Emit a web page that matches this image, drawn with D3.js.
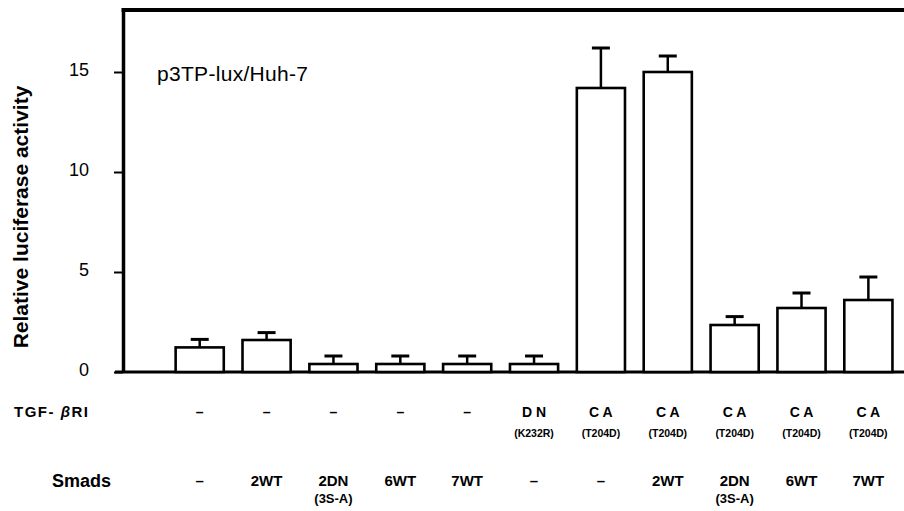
<!DOCTYPE html>
<html>
<head>
<meta charset="utf-8">
<script src="https://cdn.jsdelivr.net/npm/d3@7/dist/d3.min.js"></script>
<style>
  html, body { margin: 0; padding: 0; background: #fff; }
  svg { display: block; }
  text { font-family: "Liberation Sans", Arial, Helvetica, sans-serif; fill: #000; }
</style>
</head>
<body>
<svg id="chart" width="904" height="511"></svg>
<script>
// Luciferase reporter assay: p3TP-lux in Huh-7 cells
const groups = ["g1", "g2", "g3", "g4", "g5", "g6", "g7", "g8", "g9", "g10", "g11"];
const activity = [1.23, 1.6, 0.4, 0.4, 0.4, 0.4, 14.2, 15.0, 2.35, 3.2, 3.6];
const errorSD = [0.4, 0.37, 0.4, 0.4, 0.4, 0.4, 2.0, 0.8, 0.42, 0.75, 1.15];
const yTicks = [0, 5, 10, 15];

// Condition rows printed under the bars (main line, optional second line)
const receptorMain = ["–", "–", "–", "–", "–", "D N", "C A", "C A", "C A", "C A", "C A"];
const receptorSub = ["", "", "", "", "", "(K232R)", "(T204D)", "(T204D)", "(T204D)", "(T204D)", "(T204D)"];
const smadMain = ["–", "2WT", "2DN", "6WT", "7WT", "–", "–", "2WT", "2DN", "6WT", "7WT"];
const smadSub = ["", "", "(3S-A)", "", "", "", "", "", "(3S-A)", "", ""];

const svg = d3.select("#chart");
const plotLeft = 123, plotRight = 904, plotTop = 10, plotBottom = 372;
const yMax = 18.1;

const x = d3.scaleBand()
  .domain(groups)
  .range([plotLeft, plotRight])
  .paddingInner(0.28)
  .paddingOuter(0.48)
  .align(0.82);

const y = d3.scaleLinear()
  .domain([0, yMax])
  .range([plotBottom, plotTop]);

// Y axis with outward ticks
const yAxis = svg.append("g")
  .attr("transform", `translate(${plotLeft},0)`)
  .call(d3.axisLeft(y).tickValues(yTicks).tickSize(9).tickSizeOuter(0).tickPadding(25));
yAxis.select(".domain").attr("stroke", "#000").attr("stroke-width", 3.5);
yAxis.selectAll(".tick line").attr("stroke", "#000").attr("stroke-width", 2);
yAxis.selectAll(".tick text")
  .style("font-family", '"Liberation Sans", Arial, sans-serif')
  .style("font-size", "18px")
  .attr("fill", "#000")
  .attr("dy", "0.22em");

// Frame top and baseline
svg.append("line")
  .attr("x1", plotLeft - 1.5).attr("x2", plotRight)
  .attr("y1", y(yMax)).attr("y2", y(yMax))
  .attr("stroke", "#000").attr("stroke-width", 4);
svg.append("line")
  .attr("x1", plotLeft - 8).attr("x2", plotRight)
  .attr("y1", y(0)).attr("y2", y(0))
  .attr("stroke", "#000").attr("stroke-width", 3.2);

// Error bars (upper only)
const capW = 18;
const cx = d => x(d) + x.bandwidth() / 2;
const eb = svg.append("g").selectAll("g")
  .data(groups)
  .join("g");
eb.append("line")
  .attr("x1", cx)
  .attr("x2", cx)
  .attr("y1", (d, i) => y(activity[i]))
  .attr("y2", (d, i) => y(activity[i] + errorSD[i]))
  .attr("stroke", "#000").attr("stroke-width", 2.5);
eb.append("line")
  .attr("x1", d => cx(d) - capW / 2)
  .attr("x2", d => cx(d) + capW / 2)
  .attr("y1", (d, i) => y(activity[i] + errorSD[i]))
  .attr("y2", (d, i) => y(activity[i] + errorSD[i]))
  .attr("stroke", "#000").attr("stroke-width", 3);

// Open bars
svg.append("g").selectAll("rect")
  .data(groups)
  .join("rect")
  .attr("x", d => x(d))
  .attr("width", x.bandwidth())
  .attr("y", (d, i) => y(activity[i]))
  .attr("height", (d, i) => y(0) - y(activity[i]))
  .attr("fill", "#fff")
  .attr("stroke", "#000")
  .attr("stroke-width", 2.6);

// Y axis title
svg.append("text")
  .attr("transform", `translate(28,${(y(0) + y(yMax)) / 2 + 26}) rotate(-90)`)
  .attr("text-anchor", "middle")
  .style("font-size", "21px")
  .style("font-weight", "bold")
  .text("Relative luciferase activity");

// Panel label
svg.append("text")
  .attr("x", 157).attr("y", 81)
  .style("font-size", "21px")
  .style("letter-spacing", "0.3px")
  .text("p3TP-lux/Huh-7");

// Row headers
const tgf = svg.append("text")
  .attr("x", 14).attr("y", 417)
  .style("font-size", "15px")
  .style("font-weight", "bold")
  .style("letter-spacing", "1.5px");
tgf.append("tspan").text("TGF- ");
tgf.append("tspan").style("font-style", "italic").text("β");
tgf.append("tspan").text("RI");

svg.append("text")
  .attr("x", 52).attr("y", 487)
  .style("font-size", "18px")
  .style("font-weight", "bold")
  .text("Smads");

// Receptor row
svg.append("g").selectAll("text.rm")
  .data(groups)
  .join("text")
  .attr("class", "rm")
  .attr("x", cx)
  .attr("y", 417)
  .attr("text-anchor", "middle")
  .style("font-size", "14px")
  .style("font-weight", "bold")
  .text((d, i) => receptorMain[i]);
svg.append("g").selectAll("text.rs")
  .data(groups)
  .join("text")
  .attr("class", "rs")
  .attr("x", cx)
  .attr("y", 437)
  .attr("text-anchor", "middle")
  .style("font-size", "10.5px")
  .style("font-weight", "bold")
  .text((d, i) => receptorSub[i]);

// Smad row
svg.append("g").selectAll("text.sm")
  .data(groups)
  .join("text")
  .attr("class", "sm")
  .attr("x", cx)
  .attr("y", 486)
  .attr("text-anchor", "middle")
  .style("font-size", "15px")
  .style("font-weight", "bold")
  .text((d, i) => smadMain[i]);
svg.append("g").selectAll("text.ss")
  .data(groups)
  .join("text")
  .attr("class", "ss")
  .attr("x", cx)
  .attr("y", 503)
  .attr("text-anchor", "middle")
  .style("font-size", "13px")
  .style("font-weight", "bold")
  .text((d, i) => smadSub[i]);
</script>
</body>
</html>
